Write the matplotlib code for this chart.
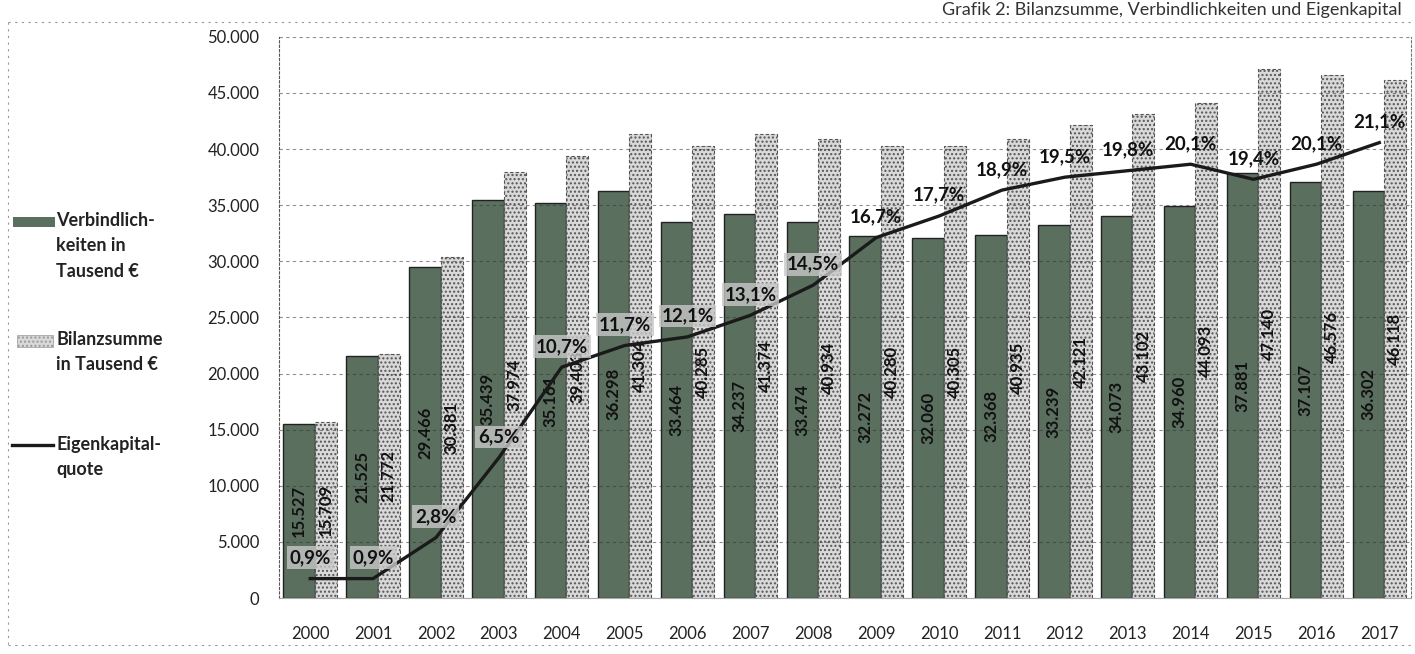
import numpy as np
import matplotlib.pyplot as plt
from matplotlib.patches import Rectangle
from matplotlib.lines import Line2D

plt.rcParams['font.family'] = ['Lato', 'DejaVu Sans']

# Daten aus der Grafik
jahre = ['2000', '2001', '2002', '2003', '2004', '2005', '2006', '2007', '2008',
         '2009', '2010', '2011', '2012', '2013', '2014', '2015', '2016', '2017']
verbindlichkeiten = [15527, 21525, 29466, 35439, 35161, 36298, 33464, 34237, 33474,
                     32272, 32060, 32368, 33239, 34073, 34960, 37881, 37107, 36302]
bilanzsumme = [15709, 21772, 30381, 37974, 39403, 41304, 40285, 41374, 40934,
               40280, 40305, 40935, 42121, 43102, 44093, 47140, 46576, 46118]
ek_quote = [0.9, 0.9, 2.8, 6.5, 10.7, 11.7, 12.1, 13.1, 14.5,
            16.7, 17.7, 18.9, 19.5, 19.8, 20.1, 19.4, 20.1, 21.1]

dark = '#5b6f5f'
light = '#d9d9d9'


def de(v):
    return f'{v:,}'.replace(',', '.')


fig = plt.figure(figsize=(14.15, 6.54), dpi=100)
ax = fig.add_axes([0.197, 0.0856, 0.8, 0.858])

x = np.arange(len(jahre))
b1 = ax.bar(x - 0.175, verbindlichkeiten, width=0.5, color=dark,
            edgecolor='#222222', linewidth=1.0, zorder=2)
b2 = ax.bar(x + 0.25, bilanzsumme, width=0.35, color=light, edgecolor='#555555',
            linewidth=0.8, linestyle=(0, (3, 2)), hatch='....', zorder=2)

ax.bar_label(b1, labels=[de(v) for v in verbindlichkeiten], label_type='center',
             rotation=90, fontsize=12, fontweight='bold', color='#111111', zorder=5)
ax.bar_label(b2, labels=[de(v) for v in bilanzsumme], label_type='center',
             rotation=90, fontsize=12, fontweight='bold', color='#111111', zorder=5)

ax.set_xlim(-0.5, len(jahre) - 0.5)
ax.set_ylim(0, 50000)
ax.set_yticks(range(0, 50001, 5000))
ax.set_yticklabels([de(v) for v in range(0, 50001, 5000)], fontsize=12, color='#222222')
ax.set_xticks(x)
ax.set_xticklabels(jahre, fontsize=12, color='#222222')
ax.tick_params(axis='x', length=0, pad=20)
ax.tick_params(axis='y', length=0, pad=14)

ax.set_axisbelow(False)
ax.yaxis.grid(True, color='#333333', linestyle=(0, (3, 3)), linewidth=0.8, alpha=0.55, zorder=3)
ax.spines['top'].set_visible(False)
ax.spines['left'].set_linestyle((0, (2, 2)))
ax.spines['left'].set_color('#555555')
ax.spines['right'].set_linestyle((0, (2, 2)))
ax.spines['right'].set_color('#777777')
ax.spines['bottom'].set_color('#aaaaaa')

# Eigenkapitalquote auf Sekundaerachse (ausgeblendet)
ax2 = ax.twinx()
ax2.set_ylim(0, 26)
ax2.plot(x, ek_quote, color='#1a1a1a', linewidth=2.4, zorder=6)
ax2.set_yticks([])
for s in ax2.spines.values():
    s.set_visible(False)
for i, q in enumerate(ek_quote):
    box = dict(boxstyle='square,pad=0.15', facecolor='#c8c8c8', edgecolor='none', alpha=0.8) if i < 9 else None
    ax2.annotate(f'{q:.1f}%'.replace('.', ','), (x[i], q), xytext=(0, 15),
                 textcoords='offset points', ha='center', va='center',
                 fontsize=13.5, fontweight='bold', color='#111111', bbox=box, zorder=7)

# Legende links
W, H = 1415, 654


def fx(px):
    return px / W


def fy(py):
    return 1 - py / H


fig.add_artist(Rectangle((fx(13), fy(227)), fx(42), 10 / H, facecolor=dark, edgecolor='none'))
fig.add_artist(Rectangle((fx(17), fy(347)), fx(36), 12 / H, facecolor=light,
                         edgecolor='#999999', hatch='....', linewidth=0.5))
fig.add_artist(Line2D([fx(12), fx(53)], [fy(445), fy(445)], color='#1a1a1a', linewidth=2.4))
leg_kw = dict(fontsize=13, fontweight='bold', color='#222222', va='top', ha='left', linespacing=1.6)
fig.text(fx(56), fy(212), 'Verbindlich-\nkeiten in\nTausend €', **leg_kw)
fig.text(fx(56), fy(331), 'Bilanzsumme\nin Tausend €', **leg_kw)
fig.text(fx(56), fy(436), 'Eigenkapital-\nquote', **leg_kw)

# Titel und Rahmen
fig.text(fx(1402), fy(2), 'Grafik 2: Bilanzsumme, Verbindlichkeiten und Eigenkapital',
         fontsize=13, color='#333333', ha='right', va='top')
fig.add_artist(Line2D([fx(8), fx(1415)], [fy(22), fy(22)], color='#999999',
                      linewidth=0.8, linestyle=(0, (2, 4))))
fig.add_artist(Line2D([fx(8), fx(8)], [fy(22), fy(645)], color='#999999',
                      linewidth=0.8, linestyle=(0, (2, 4))))
fig.add_artist(Line2D([fx(8), fx(1415)], [fy(645), fy(645)], color='#999999',
                      linewidth=0.8, linestyle=(0, (2, 4))))

fig.savefig('out.png', dpi=100)
